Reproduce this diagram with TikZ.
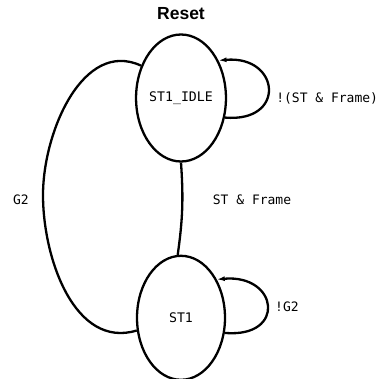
\documentclass[tikz,border=0pt]{standalone}
\usepackage{fontspec}
\setsansfont{Liberation Sans}
\newfontfamily\statefont{DejaVu Sans Mono}
\usetikzlibrary{positioning, shapes.geometric, arrows.meta}

\begin{document}
\begin{tikzpicture}[x=1pt, y=1pt,
statenode/.style={ellipse, draw=black, line width=2.3pt, inner sep=0pt, minimum width=88pt, font=\statefont\fontsize{13.2}{16}\selectfont},
labelnode/.style={inner sep=0pt, font=\statefont\fontsize{13}{16}\selectfont},
edge/.style={line width=2.3pt},
loopedge/.style={line width=2.3pt, -{Latex[length=8pt, width=5pt]}},
]
\useasboundingbox (0,0) rectangle (382,-379);
    \node[statenode, minimum height=127pt]  (idle)        at (181,-98)                {ST1\_IDLE};
    \node[statenode, minimum height=124pt]  (st1)         [below=92pt of idle]        {ST1};
    \node[inner sep=0pt, font=\sffamily\bfseries\fontsize{17.5}{20}\selectfont]
                                            (reset)       [above=13pt of idle]        {Reset};
    \node[labelnode]                        (idlelabel)   [right=49pt of idle]        {!(ST \& Frame)};
    \node[labelnode, anchor=west]           (st1label)    at (275,-307)               {!G2};
    \node[labelnode]                        (golabel)     at (252,-200)               {ST \& Frame};
    \node[labelnode]                        (backlabel)   at (21,-200)                {G2};
    \coordinate                             (g2bend)      at (43,-195);

    \draw[edge] (idle.south) to [bend left=6] (st1.93);
    \draw[edge] (idle.141) to [out=155, in=90] (g2bend) to [out=-90, in=197] (st1.196);
    \draw[loopedge] (idle.-24) .. controls +(-5:62) and +(5:62) .. (idle.45);
    \draw[loopedge] (st1.-19) .. controls +(-5:62) and +(5:62) .. (st1.47);
\end{tikzpicture}
\end{document}
